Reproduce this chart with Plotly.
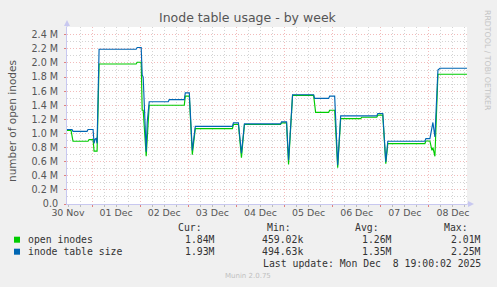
import plotly.graph_objects as go
import pandas as pd

# ---------------- data (values in millions) ----------------
open_time = [
    "2025-11-30 11:30", "2025-11-30 13:30", "2025-11-30 14:30", "2025-11-30 22:00", "2025-11-30 22:30",
    "2025-12-01 00:30", "2025-12-01 01:00", "2025-12-01 02:30", "2025-12-01 03:30", "2025-12-01 22:00", "2025-12-01 22:30",
    "2025-12-02 00:30", "2025-12-02 01:00", "2025-12-02 01:30", "2025-12-02 03:00", "2025-12-02 04:30", "2025-12-02 22:00", "2025-12-02 22:30",
    "2025-12-03 00:30", "2025-12-03 02:00", "2025-12-03 03:30", "2025-12-03 22:00", "2025-12-03 22:30",
    "2025-12-04 01:00", "2025-12-04 02:30", "2025-12-04 04:00", "2025-12-04 22:00", "2025-12-04 22:30",
    "2025-12-05 01:00", "2025-12-05 02:00", "2025-12-05 04:00", "2025-12-05 14:30", "2025-12-05 15:30", "2025-12-05 22:00", "2025-12-05 22:30",
    "2025-12-06 01:00", "2025-12-06 02:30", "2025-12-06 04:00", "2025-12-06 14:00", "2025-12-06 14:30", "2025-12-06 22:00", "2025-12-06 22:30",
    "2025-12-07 01:00", "2025-12-07 02:30", "2025-12-07 03:30", "2025-12-07 22:00", "2025-12-07 22:30",
    "2025-12-08 00:30", "2025-12-08 01:30", "2025-12-08 02:00", "2025-12-08 03:00", "2025-12-08 04:30", "2025-12-08 19:00",
]
open_inodes_m = [
    1.045, 1.045, 0.89, 0.89, 0.914,
    0.914, 0.75, 0.75, 1.986, 1.986, 2.01,
    2.01, 1.33, 1.33, 0.676, 1.40, 1.40, 1.53,
    1.53, 0.70, 1.07, 1.07, 1.127,
    1.127, 0.657, 1.127, 1.127, 1.15,
    1.15, 0.56, 1.54, 1.54, 1.30, 1.30, 1.33,
    1.33, 0.515, 1.21, 1.21, 1.23, 1.23, 1.26,
    1.26, 0.57, 0.857, 0.857, 0.894,
    0.894, 0.76, 0.80, 0.676, 1.84, 1.84,
]

size_time = [
    "2025-11-30 11:30", "2025-11-30 14:00", "2025-11-30 14:30", "2025-11-30 21:30", "2025-11-30 22:00",
    "2025-12-01 00:30", "2025-12-01 01:00", "2025-12-01 01:30", "2025-12-01 02:00", "2025-12-01 02:30", "2025-12-01 03:30", "2025-12-01 22:00", "2025-12-01 22:30",
    "2025-12-02 00:30", "2025-12-02 01:00", "2025-12-02 01:30", "2025-12-02 03:00", "2025-12-02 03:30", "2025-12-02 04:30", "2025-12-02 14:00", "2025-12-02 14:30", "2025-12-02 22:00", "2025-12-02 22:30",
    "2025-12-03 00:30", "2025-12-03 02:00", "2025-12-03 03:30", "2025-12-03 22:00", "2025-12-03 22:30",
    "2025-12-04 01:00", "2025-12-04 02:30", "2025-12-04 04:00", "2025-12-04 22:00", "2025-12-04 22:30",
    "2025-12-05 01:00", "2025-12-05 02:00", "2025-12-05 04:00", "2025-12-05 14:30", "2025-12-05 15:00", "2025-12-05 22:00", "2025-12-05 22:30",
    "2025-12-06 01:00", "2025-12-06 02:30", "2025-12-06 04:00", "2025-12-06 22:00", "2025-12-06 22:30",
    "2025-12-07 01:00", "2025-12-07 02:30", "2025-12-07 03:30", "2025-12-07 22:00", "2025-12-07 22:30",
    "2025-12-08 00:30", "2025-12-08 02:00", "2025-12-08 03:00", "2025-12-08 04:30", "2025-12-08 05:30", "2025-12-08 19:00",
]
table_size_m = [
    1.056, 1.056, 1.03, 1.03, 1.056,
    1.056, 0.86, 0.92, 0.93, 0.86, 2.195, 2.195, 2.22,
    2.22, 1.83, 1.80, 0.74, 1.16, 1.45, 1.45, 1.48, 1.48, 1.575,
    1.575, 0.76, 1.10, 1.10, 1.15,
    1.15, 0.72, 1.136, 1.136, 1.165,
    1.165, 0.62, 1.549, 1.549, 1.497, 1.497, 1.53,
    1.53, 0.55, 1.25, 1.25, 1.284,
    1.284, 0.595, 0.89, 0.89, 0.928,
    0.928, 1.156, 0.95, 1.90, 1.925, 1.925,
]

series_names = ["open inodes", "inode table size"]
series_colors = ["#00CC00", "#0066B3"]
stat_headers = ["Cur:", "Min:", "Avg:", "Max:"]
stats_open = ["1.84M", "459.02k", "1.26M", "2.01M"]
stats_size = ["1.93M", "494.63k", "1.35M", "2.25M"]

day_labels = ["30 Nov", "01 Dec", "02 Dec", "03 Dec", "04 Dec", "05 Dec", "06 Dec", "07 Dec", "08 Dec"]
day_label_pos = pd.date_range("2025-11-30 12:00", periods=9, freq="D")
y_tick_vals = [i * 0.2e6 for i in range(13)]
y_tick_text = ["0.0"] + [f"{v/1e6:.1f} M" for v in y_tick_vals[1:]]

x_range = ["2025-11-30 11:30", "2025-12-08 19:00"]
y_range = [0, 2.51e6]

# ---------------- layout helpers ----------------
W, H = 497, 287
ML, MR, MT, MB = 67, 30, 27, 83
PW, PH = W - ML - MR, H - MT - MB


def px(xp):
    return (xp - ML) / PW


def py(yp):
    return (H - MB - yp) / PH


minor_x = [t for t in pd.date_range("2025-11-30 00:00", "2025-12-09 00:00", freq="6h") if t.hour != 0]
minor_y = [i * 0.1e6 + 0.1e6 for i in range(0, 26, 2)]

GRID_MINOR = "rgba(160,160,160,0.45)"
GRID_MAJOR = "rgba(230,120,120,0.5)"
AXIS = "#c8c8f0"
TXT = "#555555"

fig = go.Figure()
fig.add_trace(go.Scatter(x=pd.to_datetime(open_time), y=[v * 1e6 for v in open_inodes_m],
                         mode="lines", line=dict(color=series_colors[0], width=1.15),
                         name=series_names[0], showlegend=False))
fig.add_trace(go.Scatter(x=pd.to_datetime(size_time), y=[v * 1e6 for v in table_size_m],
                         mode="lines", line=dict(color=series_colors[1], width=1.15),
                         name=series_names[1], showlegend=False))

fig.update_layout(
    width=W, height=H,
    margin=dict(l=ML, r=MR, t=MT, b=MB, pad=0),
    paper_bgcolor="#F0F0F0", plot_bgcolor="#FFFFFF",
    font=dict(family="DejaVu Sans", color=TXT, size=9.4),
    showlegend=False,
    xaxis=dict(type="date", range=x_range, tickmode="array", tickvals=day_label_pos, ticktext=day_labels,
               showgrid=False, ticks="", showline=True, linecolor=AXIS, linewidth=1,
               zeroline=False, tickfont=dict(size=9.4, color=TXT), fixedrange=True),
    xaxis2=dict(type="date", range=x_range, overlaying="x", anchor="y", tickmode="array", tickvals=minor_x,
                showticklabels=False, showgrid=True, gridcolor=GRID_MINOR, griddash="1px,2px", gridwidth=1,
                ticks="outside", ticklen=2, tickcolor="#bbbbbb", showline=False, zeroline=False),
    xaxis3=dict(type="date", range=x_range, overlaying="x", anchor="y", dtick=86400000, tick0="2025-12-01",
                showticklabels=False, showgrid=True, gridcolor=GRID_MAJOR, griddash="1px,2px", gridwidth=1,
                ticks="outside", ticklen=2, tickcolor="#e08080", showline=False, zeroline=False),
    yaxis=dict(range=y_range, tickmode="array", tickvals=y_tick_vals, ticktext=y_tick_text,
               showgrid=True, gridcolor=GRID_MAJOR, griddash="1px,2px", gridwidth=1,
               ticks="outside", ticklen=2, tickcolor="#e08080", ticklabelstandoff=4,
               showline=True, linecolor=AXIS, linewidth=1, zeroline=False,
               tickfont=dict(size=9.6, color=TXT), fixedrange=True),
    yaxis2=dict(range=y_range, overlaying="y", anchor="x", side="left", tickmode="array", tickvals=minor_y,
                showticklabels=False, showgrid=True, gridcolor=GRID_MINOR, griddash="1px,2px", gridwidth=1,
                ticks="", showline=False, zeroline=False),
)

# Invisible traces to activate overlay axes
fig.add_trace(go.Scatter(x=[x_range[0]], y=[None], xaxis="x2", yaxis="y", showlegend=False, hoverinfo="skip"))
fig.add_trace(go.Scatter(x=[x_range[0]], y=[None], xaxis="x3", yaxis="y", showlegend=False, hoverinfo="skip"))
fig.add_trace(go.Scatter(x=[x_range[0]], y=[None], xaxis="x", yaxis="y2", showlegend=False, hoverinfo="skip"))

shapes = []
# axis arrows
shapes.append(dict(type="line", xref="paper", yref="paper", x0=0, x1=0, y0=1, y1=py(22), line=dict(color=AXIS, width=1)))
shapes.append(dict(type="path", xref="paper", yref="paper", fillcolor=AXIS, line=dict(width=0),
                   path=f"M {px(64)} {py(26)} L {px(70)} {py(26)} L {px(67)} {py(20)} Z"))
shapes.append(dict(type="line", xref="paper", yref="paper", x0=1, x1=px(470), y0=0, y1=0, line=dict(color=AXIS, width=1)))
shapes.append(dict(type="path", xref="paper", yref="paper", fillcolor=AXIS, line=dict(width=0),
                   path=f"M {px(468)} {py(201)} L {px(468)} {py(207)} L {px(474)} {py(204)} Z"))
# legend swatches
for i, c in enumerate(series_colors):
    yc = [239.7, 251.7][i]
    shapes.append(dict(type="rect", xref="paper", yref="paper", x0=px(14), x1=px(20),
                       y0=py(yc + 3), y1=py(yc - 3), fillcolor=c, line=dict(width=0)))
fig.update_layout(shapes=shapes)

MONO = dict(family="DejaVu Sans Mono", size=9.8, color="#333333")
ann = []
ann.append(dict(text="Inode table usage - by week", x=px(248), y=py(18), xref="paper", yref="paper",
                showarrow=False, xanchor="center", yanchor="middle",
                font=dict(family="DejaVu Sans", size=12.5, color="#555555")))
ann.append(dict(text="number of open inodes", x=px(12), y=py(121), xref="paper", yref="paper",
                showarrow=False, textangle=-90, xanchor="center", yanchor="middle",
                font=dict(family="DejaVu Sans", size=10.5, color="#555555")))
ann.append(dict(text="RRDTOOL / TOBI OETIKER", x=px(487), y=py(60), xref="paper", yref="paper",
                showarrow=False, textangle=90, xanchor="center", yanchor="middle",
                font=dict(family="DejaVu Sans", size=7.8, color="#c4c4c4")))
hdr_right = [204, 293, 381, 470]
val_right = [217, 305, 394, 483]
for h, xr in zip(stat_headers, hdr_right):
    ann.append(dict(text=h, x=px(xr), y=py(227.7), xref="paper", yref="paper", showarrow=False,
                    xanchor="right", yanchor="middle", font=MONO))
for row, (name, stats) in enumerate(zip(series_names, [stats_open, stats_size])):
    yc = [239.7, 251.7][row]
    ann.append(dict(text=name, x=px(26), y=py(yc), xref="paper", yref="paper", showarrow=False,
                    xanchor="left", yanchor="middle", font=MONO))
    for s, xr in zip(stats, val_right):
        ann.append(dict(text=s, x=px(xr), y=py(yc), xref="paper", yref="paper", showarrow=False,
                        xanchor="right", yanchor="middle", font=MONO))
ann.append(dict(text="Last update: Mon Dec &nbsp;8 19:00:02 2025", x=px(483), y=py(263.3), xref="paper", yref="paper",
                showarrow=False, xanchor="right", yanchor="middle", font=MONO))
ann.append(dict(text="Munin 2.0.75", x=px(248), y=py(276), xref="paper", yref="paper", showarrow=False,
                xanchor="center", yanchor="middle",
                font=dict(family="DejaVu Sans", size=7, color="#c0c0c0")))
fig.update_layout(annotations=ann)

fig.write_html("out.html", config={"displayModeBar": False})
